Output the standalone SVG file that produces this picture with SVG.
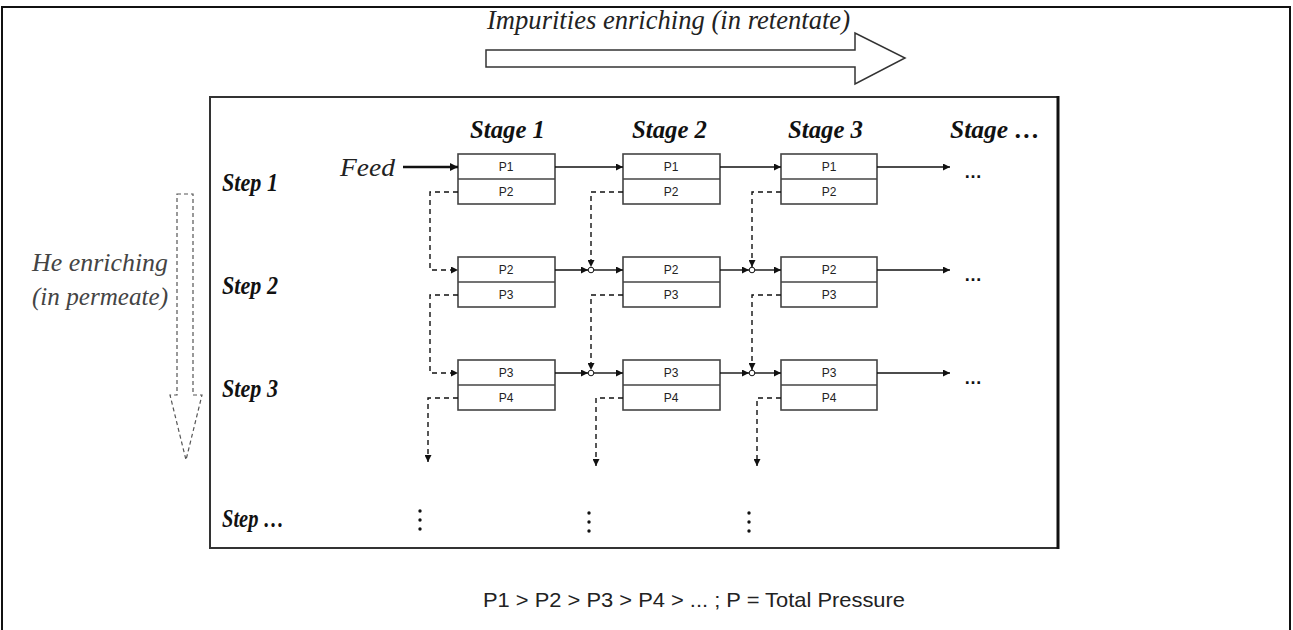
<svg xmlns="http://www.w3.org/2000/svg" width="1293" height="630" viewBox="0 0 1293 630">
<style>
.ser{font-family:"Liberation Serif","Times New Roman",serif;font-style:italic;}
.lbl{font-family:"Liberation Serif","Times New Roman",serif;font-style:italic;font-weight:bold;font-size:25px;fill:#111;}
.p{font-family:"Liberation Sans",Arial,sans-serif;font-size:12px;fill:#222;text-anchor:middle;}
.box{fill:#fff;stroke:#444;stroke-width:1.6;}
.solid{fill:none;stroke:#111;stroke-width:1.4;}
.dash{fill:none;stroke:#111;stroke-width:1.4;stroke-dasharray:5 4;}
.dots{font-family:"Liberation Sans",Arial,sans-serif;font-weight:bold;font-size:18px;fill:#111;}
</style>
<defs>
<marker id="ah" viewBox="0 0 10 10" refX="10" refY="5" markerWidth="7" markerHeight="7" markerUnits="userSpaceOnUse" orient="auto">
<path d="M0,0 L10,5 L0,10 z" fill="#111"/>
</marker>
<marker id="ahs" viewBox="0 0 10 10" refX="10" refY="5" markerWidth="8" markerHeight="8" markerUnits="userSpaceOnUse" orient="auto">
<path d="M0,0 L10,5 L0,10 z" fill="#111"/>
</marker>
</defs>
<rect x="0" y="0" width="1293" height="630" fill="#fff"/>
<rect x="2" y="7" width="1288" height="640" fill="none" stroke="#111" stroke-width="2"/>

<g id="top-arrow">
<text class="ser" x="487" y="29" font-size="27" fill="#222" textLength="363" lengthAdjust="spacingAndGlyphs">Impurities enriching (in retentate)</text>
<polygon points="486,50 855,50 855,33 905,58 855,84 855,67 486,67" fill="#fff" stroke="#333" stroke-width="1.5"/>
</g>

<g id="he-arrow">
<polygon points="177,194 193,194 193,395 202,395 186,460 170,395 177,395" fill="none" stroke="#555" stroke-width="1.2" stroke-dasharray="4 3"/>
<text class="ser" x="32" y="271" font-size="25" fill="#444" textLength="136" lengthAdjust="spacingAndGlyphs">He enriching</text>
<text class="ser" x="32" y="305" font-size="25" fill="#444" textLength="136" lengthAdjust="spacingAndGlyphs">(in permeate)</text>
</g>

<rect id="frame" x="210" y="97" width="848" height="451" fill="none" stroke="#333" stroke-width="2"/>
<line x1="1058" y1="96" x2="1058" y2="549" stroke="#111" stroke-width="3"/>

<g id="labels">
<text class="lbl" x="470" y="138" textLength="75" lengthAdjust="spacingAndGlyphs">Stage 1</text>
<text class="lbl" x="632" y="138" textLength="75" lengthAdjust="spacingAndGlyphs">Stage 2</text>
<text class="lbl" x="788" y="138" textLength="75" lengthAdjust="spacingAndGlyphs">Stage 3</text>
<text class="lbl" x="950" y="138" textLength="90" lengthAdjust="spacingAndGlyphs">Stage …</text>
<text class="lbl" x="222" y="191" textLength="56" lengthAdjust="spacingAndGlyphs">Step 1</text>
<text class="lbl" x="222" y="294" textLength="56" lengthAdjust="spacingAndGlyphs">Step 2</text>
<text class="lbl" x="222" y="397" textLength="56" lengthAdjust="spacingAndGlyphs">Step 3</text>
<text class="lbl" x="222" y="527" textLength="62" lengthAdjust="spacingAndGlyphs">Step …</text>
<text class="ser" x="340" y="176" font-size="25" fill="#222" textLength="55" lengthAdjust="spacingAndGlyphs">Feed</text>
</g>

<g id="s1r1"><rect class="box" x="458" y="154" width="97" height="50"/><line x1="458" y1="179" x2="555" y2="179" stroke="#444" stroke-width="1.4"/><text class="p" x="506" y="171">P1</text><text class="p" x="506" y="196">P2</text></g>
<g id="s2r1"><rect class="box" x="623" y="154" width="97" height="50"/><line x1="623" y1="179" x2="720" y2="179" stroke="#444" stroke-width="1.4"/><text class="p" x="671" y="171">P1</text><text class="p" x="671" y="196">P2</text></g>
<g id="s3r1"><rect class="box" x="781" y="154" width="96" height="50"/><line x1="781" y1="179" x2="877" y2="179" stroke="#444" stroke-width="1.4"/><text class="p" x="829" y="171">P1</text><text class="p" x="829" y="196">P2</text></g>

<g id="s1r2"><rect class="box" x="458" y="257" width="97" height="50"/><line x1="458" y1="282" x2="555" y2="282" stroke="#444" stroke-width="1.4"/><text class="p" x="506" y="274">P2</text><text class="p" x="506" y="299">P3</text></g>
<g id="s2r2"><rect class="box" x="623" y="257" width="97" height="50"/><line x1="623" y1="282" x2="720" y2="282" stroke="#444" stroke-width="1.4"/><text class="p" x="671" y="274">P2</text><text class="p" x="671" y="299">P3</text></g>
<g id="s3r2"><rect class="box" x="781" y="257" width="96" height="50"/><line x1="781" y1="282" x2="877" y2="282" stroke="#444" stroke-width="1.4"/><text class="p" x="829" y="274">P2</text><text class="p" x="829" y="299">P3</text></g>

<g id="s1r3"><rect class="box" x="458" y="360" width="97" height="50"/><line x1="458" y1="385" x2="555" y2="385" stroke="#444" stroke-width="1.4"/><text class="p" x="506" y="377">P3</text><text class="p" x="506" y="402">P4</text></g>
<g id="s2r3"><rect class="box" x="623" y="360" width="97" height="50"/><line x1="623" y1="385" x2="720" y2="385" stroke="#444" stroke-width="1.4"/><text class="p" x="671" y="377">P3</text><text class="p" x="671" y="402">P4</text></g>
<g id="s3r3"><rect class="box" x="781" y="360" width="96" height="50"/><line x1="781" y1="385" x2="877" y2="385" stroke="#444" stroke-width="1.4"/><text class="p" x="829" y="377">P3</text><text class="p" x="829" y="402">P4</text></g>

<g id="connectors">
<line x1="403" y1="167" x2="458" y2="167" stroke="#111" stroke-width="2.6" marker-end="url(#ahs)"/>
<line class="solid" x1="555" y1="167" x2="623" y2="167" marker-end="url(#ah)"/>
<line class="solid" x1="720" y1="167" x2="781" y2="167" marker-end="url(#ah)"/>
<line class="solid" x1="877" y1="167" x2="950" y2="167" marker-end="url(#ah)"/>

<line class="solid" x1="555" y1="270" x2="588" y2="270" marker-end="url(#ah)"/>
<line class="solid" x1="594" y1="270" x2="623" y2="270" marker-end="url(#ah)"/>
<line class="solid" x1="720" y1="270" x2="749" y2="270" marker-end="url(#ah)"/>
<line class="solid" x1="755" y1="270" x2="781" y2="270" marker-end="url(#ah)"/>
<line class="solid" x1="877" y1="270" x2="950" y2="270" stroke-width="1.8" marker-end="url(#ah)"/>

<line class="solid" x1="555" y1="373" x2="588" y2="373" marker-end="url(#ah)"/>
<line class="solid" x1="594" y1="373" x2="623" y2="373" marker-end="url(#ah)"/>
<line class="solid" x1="720" y1="373" x2="749" y2="373" marker-end="url(#ah)"/>
<line class="solid" x1="755" y1="373" x2="781" y2="373" marker-end="url(#ah)"/>
<line class="solid" x1="877" y1="373" x2="950" y2="373" marker-end="url(#ah)"/>

<circle cx="591" cy="270" r="2.8" fill="#fff" stroke="#111" stroke-width="1"/>
<circle cx="752" cy="270" r="2.8" fill="#fff" stroke="#111" stroke-width="1"/>
<circle cx="591" cy="373" r="2.8" fill="#fff" stroke="#111" stroke-width="1"/>
<circle cx="752" cy="373" r="2.8" fill="#fff" stroke="#111" stroke-width="1"/>

<path class="dash" d="M458,192 H430 V270 H458" marker-end="url(#ah)"/>
<path class="dash" d="M623,192 H591 V267" marker-end="url(#ah)"/>
<path class="dash" d="M781,192 H752 V267" marker-end="url(#ah)"/>
<path class="dash" d="M458,295 H430 V373 H458" marker-end="url(#ah)"/>
<path class="dash" d="M623,295 H591 V370" marker-end="url(#ah)"/>
<path class="dash" d="M781,295 H752 V370" marker-end="url(#ah)"/>
<path class="dash" d="M458,398 H428 V462" marker-end="url(#ah)"/>
<path class="dash" d="M623,398 H596 V466" marker-end="url(#ah)"/>
<path class="dash" d="M781,398 H757 V466" marker-end="url(#ah)"/>
</g>

<g id="ellipses">
<text class="dots" x="964" y="178">…</text>
<text class="dots" x="964" y="281">…</text>
<text class="dots" x="964" y="384">…</text>
<g fill="#111">
<circle cx="420" cy="511" r="1.7"/><circle cx="420" cy="520" r="1.7"/><circle cx="420" cy="529" r="1.7"/>
<circle cx="589" cy="513" r="1.7"/><circle cx="589" cy="522" r="1.7"/><circle cx="589" cy="531" r="1.7"/>
<circle cx="749" cy="513" r="1.7"/><circle cx="749" cy="522" r="1.7"/><circle cx="749" cy="531" r="1.7"/>
</g>
</g>

<text id="footer" x="483" y="607" font-family="Liberation Sans, Arial, sans-serif" font-size="21" fill="#222" textLength="422" lengthAdjust="spacingAndGlyphs">P1 &gt; P2 &gt; P3 &gt; P4 &gt; ... ; P = Total Pressure</text>
</svg>
